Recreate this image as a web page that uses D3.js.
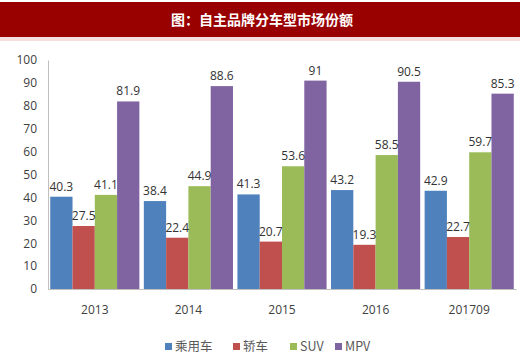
<!DOCTYPE html>
<html><head><meta charset="utf-8">
<script src="https://cdn.jsdelivr.net/npm/d3@7"></script>
<style>body{margin:0;background:#fff}svg{display:block}</style>
</head><body>
<script>
const title = "图：自主品牌分车型市场份额";
const categories = ["2013","2014","2015","2016","201709"];
const seriesNames = ["乘用车","轿车","SUV","MPV"];
const seriesColors = ["#4F81BD","#C0504D","#9BBB59","#8064A2"];
const passenger = [40.3,38.4,41.3,43.2,42.9];
const sedan = [27.5,22.4,20.7,19.3,22.7];
const suv = [41.1,44.9,53.6,58.5,59.7];
const mpv = [81.9,88.6,91,90.5,85.3];
const yTicks = [0,10,20,30,40,50,60,70,80,90,100];
const seriesValues = [passenger, sedan, suv, mpv];

const W=520,H=359;
const svg=d3.select("body").append("svg").attr("width",W).attr("height",H);
svg.append("rect").attr("x",0).attr("y",2).attr("width",W).attr("height",35).attr("fill","#990000");
svg.append("rect").attr("x",0).attr("y",37).attr("width",W).attr("height",4).attr("fill","#f6dede");
svg.append("text").attr("x",262).attr("y",25).attr("text-anchor","middle")
  .attr("fill","#fff").attr("font-weight","bold").attr("font-size",14)
  .attr("font-family","'Noto Sans CJK SC',sans-serif").text(title);

const x0=d3.scaleBand().domain(categories).range([48,516]).padding(0);
const x1=d3.scaleBand().domain(seriesNames).range([0,x0.bandwidth()]).paddingInner(0).paddingOuter(0.1);
const y=d3.scaleLinear().domain([0,100]).range([289,60]);

const yAxis=svg.append("g").attr("transform","translate(48,0)")
  .call(d3.axisLeft(y).tickValues(yTicks).tickSize(0).tickPadding(11));
yAxis.select(".domain").attr("stroke","#bfbfbf");
yAxis.selectAll("text").attr("font-family","'Open Sans',sans-serif").attr("font-size",12).attr("fill","#404040");

const xAxis=svg.append("g").attr("transform","translate(0,289)")
  .call(d3.axisBottom(x0).tickSize(0).tickPadding(16));
xAxis.select(".domain").attr("stroke","#bfbfbf");
xAxis.selectAll("text").attr("font-family","'Open Sans',sans-serif").attr("font-size",12).attr("fill","#404040");

const data=[];
categories.forEach((c,i)=>seriesNames.forEach((s,j)=>data.push({c,s,j,v:seriesValues[j][i]})));
svg.append("g").selectAll("rect").data(data).join("rect")
  .attr("x",d=>x0(d.c)+x1(d.s)).attr("width",x1.bandwidth())
  .attr("y",d=>y(d.v)).attr("height",d=>y(0)-y(d.v))
  .attr("fill",d=>seriesColors[d.j]);
svg.append("g").selectAll("text").data(data).join("text")
  .attr("x",d=>x0(d.c)+x1(d.s)+x1.bandwidth()/2).attr("y",d=>y(d.v)-6)
  .attr("text-anchor","middle").attr("font-family","'Open Sans',sans-serif")
  .attr("font-size",12).attr("fill","#333").text(d=>d.v);

// legend
const legX=[165,233,290,335];
const leg=svg.append("g");
seriesNames.forEach((s,j)=>{
  leg.append("rect").attr("x",legX[j]).attr("y",343).attr("width",7).attr("height",7).attr("fill",seriesColors[j]);
  leg.append("text").attr("x",legX[j]+10).attr("y",351).attr("font-size",12.5)
    .attr("font-family","'Noto Sans CJK SC','Open Sans',sans-serif").attr("fill","#595959").text(s);
});
</script>
</body></html>
